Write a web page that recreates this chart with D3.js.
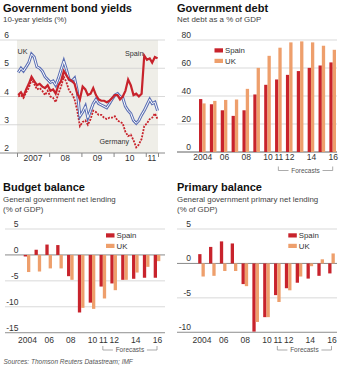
<!DOCTYPE html>
<html>
<head>
<meta charset="utf-8">
<script src="https://cdn.jsdelivr.net/npm/d3@7"></script>
<style>
body { margin: 0; background: #fff; }
svg text { font-family: "Liberation Sans", Arial, sans-serif; fill: #333; }
.title { font-family: "Liberation Sans Narrow", "Arial Narrow", "Liberation Sans", sans-serif !important; font-weight: bold; font-size: 11px; fill: #111 !important; }
.sub { font-size: 7.9px; fill: #444 !important; }
.lab { font-size: 8.5px; }
.leg { font-size: 7.8px; }
.note { font-size: 6.5px; fill: #555 !important; }
</style>
</head>
<body>
<svg width="340" height="368"></svg>
<script>
var svg = d3.select("svg");

// bond yields, monthly (mid-month), Jan 2007 - May 2011
var ukYield = [4.85, 5.0, 4.9, 5.05, 5.2, 5.5, 5.4, 5.05, 5.0, 4.9, 4.7, 4.6,
               4.5, 4.55, 4.4, 4.65, 4.95, 5.25, 4.95, 4.6, 4.55, 4.65, 4.2, 3.3,
               3.45, 3.65, 3.25, 3.5, 3.75, 3.9, 3.75, 3.7, 3.65, 3.6, 3.75, 3.9,
               4.05, 4.1, 4.0, 3.95, 3.65, 3.5, 3.4, 3.15, 3.05, 3.15, 3.35, 3.5,
               3.7, 3.9, 3.75, 3.8, 3.5];
var spainYield = [4.05, 4.15, 4.0, 4.25, 4.45, 4.7, 4.55, 4.4, 4.45, 4.35, 4.3, 4.4,
                  4.2, 4.25, 4.1, 4.4, 4.55, 4.9, 4.75, 4.6, 4.55, 4.45, 4.1, 3.9,
                  4.35, 4.25, 4.05, 4.1, 4.3, 4.05, 3.9, 3.85, 3.85, 3.8, 3.85, 3.95,
                  4.05, 4.05, 3.9, 4.0, 4.2, 4.6, 4.4, 4.05, 4.1, 4.0, 4.1, 5.45,
                  5.3, 5.35, 5.2, 5.4, 5.35];
var germanyYield = [4.0, 4.05, 3.95, 4.15, 4.3, 4.6, 4.45, 4.25, 4.3, 4.2, 4.05, 4.2,
                    4.0, 3.95, 3.8, 4.1, 4.35, 4.7, 4.5, 4.2, 4.1, 3.9, 3.5, 2.95,
                    3.1, 3.15, 3.0, 3.2, 3.5, 3.45, 3.35, 3.35, 3.25, 3.2, 3.25, 3.25,
                    3.3, 3.15, 3.1, 3.05, 2.75, 2.6, 2.65, 2.45, 2.2, 2.3, 2.5, 2.95,
                    3.05, 3.2, 3.25, 3.4, 3.2];
var bondYearLabels = ["2007", "08", "09", "10", "11"];
var bondTicks = [2, 3, 4, 5, 6];

var years = [2004, 2005, 2006, 2007, 2008, 2009, 2010, 2011, 2012, 2013, 2014, 2015, 2016];
var yearLabels = { 2004: "2004", 2006: "06", 2008: "08", 2010: "10", 2011: "11", 2012: "12", 2014: "14", 2016: "16" };

var debtSpain = [37.8, 34.1, 29.8, 25.8, 29.8, 41.1, 48.0, 51.8, 55.1, 57.8, 60.1, 61.8, 64.0];
var debtUK = [34.7, 36.5, 37.2, 37.5, 45.1, 60.1, 68.7, 74.5, 78.3, 79.0, 78.3, 75.9, 73.0];
var debtTicks = [0, 20, 40, 60, 80];

var budgetSpain = [-0.3, 1.0, 2.0, 1.9, -4.1, -11.1, -9.2, -6.1, -5.5, -4.8, -4.6, -4.4, -4.4];
var budgetUK = [-3.3, -3.2, -2.6, -2.6, -4.8, -10.2, -10.4, -8.4, -6.8, -4.8, -3.4, -2.3, -1.2];
var budgetTicks = [-15, -10, -5, 0, 5];

var primarySpain = [1.35, 2.4, 3.2, 2.9, -3.0, -9.9, -7.8, -4.6, -3.6, -2.8, -2.2, -1.8, -1.45];
var primaryUK = [-1.9, -1.8, -1.1, -1.1, -3.3, -8.5, -7.8, -5.6, -3.9, -1.9, -0.4, 0.6, 1.45];
var primaryTicks = [-10, -5, 0, 5];

var RED = "#c8232c", ORANGE = "#ee9f6c", BLUE = "#5b6fb4";

function title(x, y, t) {
  svg.append("text").attr("class", "title").attr("x", x).attr("y", y).text(t);
}
function sub(x, y, t) {
  svg.append("text").attr("class", "sub").attr("x", x).attr("y", y).text(t);
}

function yGrid(y, ticks, x0, x1, labelX, zero) {
  var g = svg.append("g");
  g.selectAll("line").data(ticks).enter().append("line")
    .attr("x1", x0).attr("x2", x1)
    .attr("y1", d => y(d)).attr("y2", d => y(d))
    .attr("stroke", d => (d === zero ? "#8a8a8a" : "#cfcfcf"))
    .attr("stroke-width", d => (d === zero ? 1 : 0.8));
  g.selectAll("text").data(ticks).enter().append("text")
    .attr("class", "lab")
    .attr("x", labelX).attr("y", d => y(d) - 2)
    .attr("text-anchor", "end")
    .text(d => (d < 0 ? "-" + Math.abs(d) : d));
}

// ---------- Panel 1: bond yields ----------
title(3, 12, "Government bond yields");
sub(3, 22, "10-year yields (%)");

var bx = d3.scaleTime().domain([new Date(2007, 0, 1), new Date(2011, 4, 20)]).range([17, 158]);
var by = d3.scaleLinear().domain([2, 6]).range([153, 40]);

svg.append("rect").attr("x", bx.range()[0]).attr("y", by(6))
  .attr("width", bx.range()[1] - bx.range()[0]).attr("height", by(2) - by(6))
  .attr("fill", "#efeee8");
yGrid(by, bondTicks, 0, 165, 9, 2);

var yearStarts = d3.timeYear.range(new Date(2007, 0, 1), new Date(2012, 0, 1));
svg.append("g").attr("transform", "translate(0," + by(2) + ")")
  .call(d3.axisBottom(bx).tickValues(yearStarts.concat([bx.domain()[1]])).tickSize(4).tickFormat(""))
  .call(g => g.select(".domain").remove())
  .call(g => g.selectAll(".tick line").attr("stroke", "#888"));
svg.append("g").selectAll("text").data(yearStarts).enter().append("text")
  .attr("class", "lab")
  .attr("x", (d, i) => {
    var end = i < yearStarts.length - 1 ? yearStarts[i + 1] : bx.domain()[1];
    return (bx(d) + bx(end)) / 2;
  })
  .attr("y", 160.5).attr("text-anchor", "middle")
  .text((d, i) => bondYearLabels[i]);

var dates = ukYield.map((d, i) => new Date(2007, i, 15));
var line = d3.line().x((d, i) => bx(dates[i])).y(d => by(d));

svg.append("path").datum(germanyYield).attr("d", line)
  .attr("fill", "none").attr("stroke", RED).attr("stroke-width", 1.8)
  .attr("stroke-dasharray", "2,1.2");
svg.append("path").datum(ukYield).attr("d", line)
  .attr("fill", "none").attr("stroke", BLUE).attr("stroke-width", 3);
svg.append("path").datum(ukYield).attr("d", line)
  .attr("fill", "none").attr("stroke", "#fff").attr("stroke-width", 1);
svg.append("path").datum(spainYield).attr("d", line)
  .attr("fill", "none").attr("stroke", RED).attr("stroke-width", 2.2);

svg.append("text").attr("class", "leg").style("font-size", "7.2px").attr("x", 17.5).attr("y", 53.5).text("UK");
svg.append("text").attr("class", "leg").style("font-size", "7.2px").attr("x", 125).attr("y", 56).text("Spain");
svg.append("text").attr("class", "leg").style("font-size", "7.2px").attr("x", 99.5).attr("y", 144).text("Germany");

// ---------- bar panel helper ----------
function barPanel(o) {
  var x = d3.scalePoint().domain(years).range(o.xr);
  var y = d3.scaleLinear().domain(o.yd).range(o.yr);
  var sx = d3.scaleBand().domain(["Spain", "UK"]).range([-3.3, 3.3]);
  yGrid(y, o.ticks, o.gx[0], o.gx[1], o.labelX, 0);
  // bottom line
  svg.append("line").attr("x1", o.gx[0]).attr("x2", o.gx[1])
    .attr("y1", y(o.yd[0])).attr("y2", y(o.yd[0]))
    .attr("stroke", "#9a9a9a").attr("stroke-width", 1);

  var rows = years.map((yr, i) => ({ yr: yr, Spain: o.spain[i], UK: o.uk[i] }));
  var g = svg.append("g");
  ["Spain", "UK"].forEach(function (k) {
    g.selectAll("rect." + k).data(rows).enter().append("rect")
      .attr("class", k)
      .attr("x", d => x(d.yr) + sx(k))
      .attr("width", sx.bandwidth())
      .attr("y", d => y(Math.max(0, d[k])))
      .attr("height", d => Math.abs(y(d[k]) - y(0)))
      .attr("fill", k === "Spain" ? RED : ORANGE);
  });

  svg.append("g").attr("transform", "translate(0," + o.labelY + ")")
    .call(d3.axisBottom(x).tickValues(Object.keys(yearLabels).map(Number)).tickSize(0).tickFormat(d => yearLabels[d]))
    .call(a => a.select(".domain").remove())
    .call(a => a.selectAll("text").attr("class", "lab").attr("dy", 0).attr("y", 0));

  // forecasts bracket
  var fx0 = x(2011), fx1 = x(2016), fy = o.fy, mid = (fx0 + fx1) / 2;
  var fg = svg.append("g").attr("stroke", "#888").attr("stroke-width", 0.7).attr("fill", "none");
  fg.append("path").attr("d", "M" + fx0 + "," + (fy - 4) + "V" + fy + "H" + (mid - 17));
  fg.append("path").attr("d", "M" + (mid + 17) + "," + fy + "H" + fx1 + "V" + (fy - 4));
  svg.append("text").attr("class", "note").style("font-style", "normal").style("font-size", "6.5px")
    .attr("x", mid).attr("y", fy + 2.3).attr("text-anchor", "middle").text("Forecasts");

  // legend
  var lg = svg.append("g").attr("transform", "translate(" + o.leg[0] + "," + o.leg[1] + ")");
  [["Spain", RED], ["UK", ORANGE]].forEach(function (d, i) {
    lg.append("rect").attr("x", 0).attr("y", i * 10.5).attr("width", 8.5).attr("height", 4.2).attr("fill", d[1]);
    lg.append("text").attr("class", "leg").attr("x", 10.5).attr("y", i * 10.5 + 5).text(d[0]);
  });
}

// ---------- Panel 2: government debt ----------
title(177, 12, "Government debt");
sub(177, 22, "Net debt as a % of GDP");
barPanel({ xr: [202.3, 332.7], yd: [0, 80], yr: [152, 40], ticks: debtTicks, gx: [177, 337], labelX: 191,
  spain: debtSpain, uk: debtUK, labelY: 160, fy: 170.5, leg: [214.5, 48.3] });

// ---------- Panel 3: budget balance ----------
title(3, 191, "Budget balance");
sub(3, 202, "General government net lending");
sub(3, 211.5, "(% of GDP)");
barPanel({ xr: [27, 157], yd: [-15, 5], yr: [332.7, 229], ticks: budgetTicks, gx: [5, 165], labelX: 18.5,
  spain: budgetSpain, uk: budgetUK, labelY: 343, fy: 350, leg: [106, 233.3] });

// ---------- Panel 4: primary balance ----------
title(177, 191, "Primary balance");
sub(177, 202, "General government primary net lending");
sub(177, 211.5, "(% of GDP)");
barPanel({ xr: [201.5, 331.5], yd: [-10, 5], yr: [332.3, 229], ticks: primaryTicks, gx: [177, 337], labelX: 191,
  spain: primarySpain, uk: primaryUK, labelY: 343, fy: 350, leg: [288.3, 233.3] });

svg.append("text").attr("class", "note").style("font-style", "italic")
  .attr("x", 3.5).attr("y", 364).text("Sources: Thomson Reuters Datastream; IMF");
</script>
</body>
</html>
